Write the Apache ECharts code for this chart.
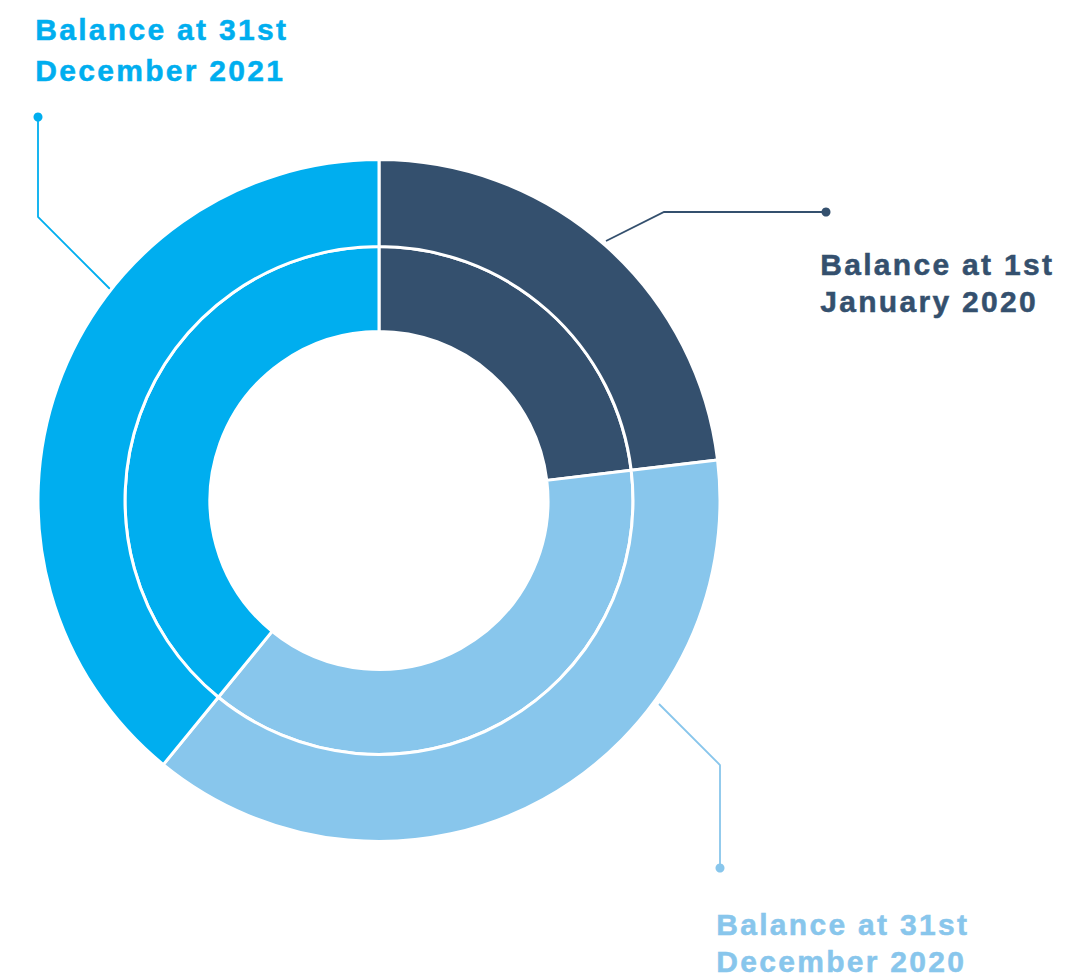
<!DOCTYPE html>
<html>
<head>
<meta charset="utf-8">
<script src="https://cdn.jsdelivr.net/npm/echarts@6/dist/echarts.min.js"></script>
<style>
  html, body { margin: 0; padding: 0; background: #ffffff; }
  #chart { width: 1069px; height: 980px; }
  #chart text { letter-spacing: 2.3px; }
</style>
</head>
<body>
<div id="chart"></div>
<script>
// ---- data ----
const categories = ['Balance at 1st January 2020', 'Balance at 31st December 2020', 'Balance at 31st December 2021'];
const labelLines = [['Balance at 1st', 'January 2020'], ['Balance at 31st', 'December 2020'], ['Balance at 31st', 'December 2021']];
const innerValues = [23.1, 37.8, 39.1];
const outerValues = [23.1, 37.8, 39.1];
const colors = ['#34506E', '#88C6EC', '#00AEEF'];

const chart = echarts.init(document.getElementById('chart'), null, { renderer: 'svg' });

function mkData(values) {
  return values.map((v, i) => ({ name: categories[i], value: v, itemStyle: { color: colors[i] } }));
}

const FONT = 'bold 30px "Liberation Sans", Arial, Helvetica, sans-serif';

function textEl(lines, x, y, color, lh) {
  return {
    type: 'text', left: x, top: y, silent: true,
    style: { text: lines.join('\n'), font: FONT, fill: color, stroke: color, lineWidth: 0.5,
             lineHeight: lh, align: 'left', verticalAlign: 'top' }
  };
}
function leader(points, color) {
  const end = points[0];
  return [
    { type: 'polyline', silent: true, shape: { points: points }, style: { stroke: color, lineWidth: 1.8, fill: null } },
    { type: 'circle', silent: true, shape: { cx: end[0], cy: end[1], r: 4.5 }, style: { fill: color } }
  ];
}

const graphics = [].concat(
  leader([[826, 212], [664, 212], [606, 241]], colors[0]),
  leader([[720, 868], [720, 765], [659, 704]], colors[1]),
  leader([[38, 117], [38, 217], [110, 289]], colors[2]),
  [
    textEl(labelLines[0], 820, 246, colors[0], 37),
    textEl(labelLines[1], 716, 906, colors[1], 37),
    textEl(labelLines[2], 35, 9, colors[2], 41)
  ]
);

chart.setOption({
  animation: false,
  backgroundColor: '#ffffff',
  series: [
    {
      type: 'pie', name: 'inner', center: [379, 500.5], radius: [169, 254],
      startAngle: 90, clockwise: true, silent: true,
      label: { show: false }, labelLine: { show: false },
      itemStyle: { borderColor: '#ffffff', borderWidth: 3 },
      data: mkData(innerValues)
    },
    {
      type: 'pie', name: 'outer', center: [379, 500.5], radius: [254, 341],
      startAngle: 90, clockwise: true, silent: true,
      label: { show: false }, labelLine: { show: false },
      itemStyle: { borderColor: '#ffffff', borderWidth: 3 },
      data: mkData(outerValues)
    }
  ],
  graphic: graphics
});
</script>
</body>
</html>
